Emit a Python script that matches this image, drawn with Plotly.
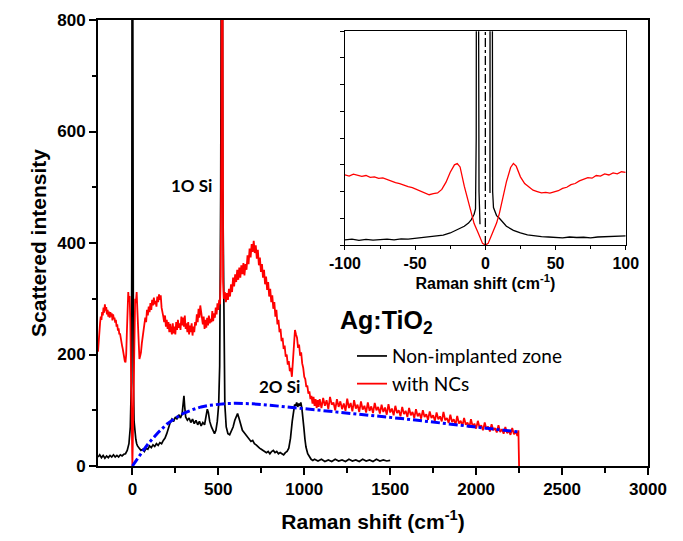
import plotly.graph_objects as go

# ---------------- main panel data ----------------
nc_x = [-200,-196,-192,-188,-184,-180,-176,-172,-168,-164,-160,-156,-152,-148,-144,-140,-136,-132,-128,-124,
        -120,-116,-112,-108,-104,-100,-96,-92,-88,-84,-80,-76,-72,-68,-64,-60,-56,-52,-48,-44,-40,
        -36,-32,-28,-24,-20,-16,-12,-8,-4,0,4,8,12,16,20,25,29,33,37,41,46,
        50,55,60,65,70,75,80,85,90,95,100,105,110,115,120,125,130,135,140,145,150,155,160,165,170,175,180,185,190,195,
        200,205,210,215,220,225,230,235,240,245,250,255,260,265,270,275,280,285,290,295,300,305,310,315,320,325,330,335,
        340,345,350,355,360,365,370,375,380,385,390,395,400,405,410,415,420,425,430,435,440,445,450,455,460,465,470,475,
        480,485,490,495,500,505,510,514,518,521,524,528,
        532,538,544,550,556,562,568,574,580,586,592,598,604,610,616,622,628,634,640,646,652,658,664,670,676,682,688,694,
        700,706,712,718,724,730,736,742,748,754,760,766,772,778,784,790,796,802,808,814,820,826,832,838,844,850,856,862,
        868,874,880,886,892,898,904,910,916,922,928,934,940,946,952,958,964,970,976,982,988,994,1000,1006,1012,1018,
        1024,1030,1036,1042,1048,1054,1060,1066,1072,1078,1084,1090,
        1100,1110,1120,1130,1140,1150,1160,1170,1180,1190,1200,1210,1220,1230,1240,1250,1260,1270,1280,1290,1300,1310,
        1320,1330,1340,1350,1360,1370,1380,1390,1400,1410,1420,1430,1440,1450,1460,1470,1480,1490,1500,1510,1520,1530,
        1540,1550,1560,1570,1580,1590,1600,1610,1620,1630,1640,1650,1660,1670,1680,1690,1700,1710,1720,1730,1740,1750,
        1760,1770,1780,1790,1800,1810,1820,1830,1840,1850,1860,1870,1880,1890,1900,1910,1920,1930,1940,1950,1960,1970,
        1980,1990,2000,2010,2020,2030,2040,2050,2060,2070,2080,2090,2100,2110,2120,2130,2140,2150,2160,2170,2180,2190,
        2200,2210,2220,2230,2240,2246,2248,2250]
nc_y = [205,228,248,256,268,262,276,270,284,275,290,279,285,272,280,268,277,266,276,268,
        274,261,272,264,266,257,262,250,254,243,247,236,238,228,226,216,210,200,196,188,186,
        200,240,290,312,295,305,260,170,60,0,70,180,270,300,292,312,280,240,205,192,198,
        204,220,232,250,254,266,258,280,270,286,276,292,280,298,288,302,290,296,286,304,294,308,298,306,284,278,268,258,270,250,
        262,246,258,240,255,244,236,256,238,250,236,258,244,262,248,256,244,268,252,266,250,270,246,256,240,258,236,252,
        240,256,234,250,240,258,252,272,258,282,266,288,272,262,254,268,246,262,248,266,252,270,256,264,258,278,260,274,
        266,284,272,292,280,298,290,340,600,1500,600,330,
        300,312,294,310,298,318,304,326,312,338,322,344,330,352,334,356,338,360,344,364,342,362,352,378,362,390,374,398,
        384,404,382,396,372,388,360,374,348,362,338,352,326,340,316,330,304,318,294,306,282,294,268,280,254,262,240,246,
        224,230,210,216,196,200,182,188,170,176,160,196,226,244,236,230,212,218,198,204,184,176,160,156,142,144,
        130,134,120,126,112,124,108,120,104,118,106,120,
        104,122,108,118,102,124,110,114,100,120,106,116,102,112,99,121,104,113,98,118,103,110,
        97,116,101,108,96,114,99,107,95,113,100,106,94,110,97,105,92,111,96,103,91,108,
        95,100,89,106,93,99,88,104,91,97,86,102,89,95,85,100,88,93,83,98,86,91,
        81,96,84,89,80,97,82,86,77,92,79,84,74,90,76,81,72,86,74,78,69,84,
        71,76,67,81,69,73,64,78,66,71,62,75,64,68,60,73,61,66,58,70,59,63,
        56,68,57,62,54,64,30,0]

ref_x = [-200,-190,-180,-170,-160,-150,-140,-130,-120,-110,-100,-90,-80,-70,-60,-50,-40,-30,-20,-12,-6,-3,-1,1,3,6,
         10,15,20,25,30,40,50,60,70,80,90,100,110,120,130,140,150,160,170,180,190,200,210,220,230,240,250,260,270,280,
         290,296,300,304,310,320,330,340,350,360,370,380,390,400,410,420,430,436,442,450,460,470,478,486,494,502,508,514,
         518,522,526,532,538,546,556,566,576,586,596,604,612,620,630,640,650,660,670,680,690,700,710,720,730,740,750,760,
         770,780,790,800,810,820,830,840,850,860,870,880,890,900,910,920,930,938,944,950,956,962,968,974,980,986,992,998,
         1004,1010,1020,1030,1040,1050,1060,1080,1100,1120,1140,1160,1180,1200,1220,1240,1260,1280,1300,1320,1340,1360,
         1380,1400,1420,1440,1460,1480,1500]
ref_y = [16,20,15,19,14,18,15,19,16,20,16,19,16,20,18,21,22,28,40,70,150,400,1500,1500,400,150,
         80,55,48,40,36,32,28,30,26,32,30,36,33,38,35,40,37,42,40,46,50,58,70,78,84,80,88,84,92,86,
         95,110,126,108,88,82,86,78,84,76,82,74,80,72,78,74,92,102,96,80,70,62,58,64,80,110,180,500,
         1500,1500,500,200,110,70,58,56,62,70,82,90,94,86,72,64,60,56,50,48,44,46,40,38,34,32,30,28,
         26,24,26,22,26,28,24,26,22,24,22,20,24,26,32,50,80,104,110,108,114,106,112,108,114,104,90,68,
         48,34,22,16,12,10,12,9,12,8,11,8,12,9,11,8,12,9,11,8,12,9,
         11,8,12,9,11,9,10]

fit_x = [0,25,50,75,100,150,200,250,300,350,400,450,500,550,600,650,700,800,900,1000,1100,1200,1300,1400,1500,
         1600,1700,1800,1900,2000,2100,2200,2250]
fit_y = [0,10,22,33,43,60,75,86,95,101,106,109,111,112,112.5,112,111.5,109,106,102,99,96,93,90,87,
         84,80.5,77,73.5,70,66,62.5,61]

# ---------------- inset data ----------------
in_nc_x = [-100,-97,-94,-91,-88,-85,-82,-79,-76,-73,-70,-67,-64,-61,-58,-55,-52,-49,-46,-43,-40,-37,-34,-31,-28,
           -25,-22,-20,-18,-15,-12,-10,-8,-5,-2,0,
           2,5,8,10,12,15,18,20,22,25,28,31,34,37,40,43,46,49,52,55,58,61,64,67,70,73,76,79,82,85,88,91,94,97,100]
in_nc_y = [2.62,2.58,2.65,2.6,2.57,2.6,2.53,2.55,2.49,2.51,2.44,2.39,2.33,2.3,2.24,2.18,2.15,2.08,2.02,1.97,1.88,1.92,1.95,2.08,2.35,
           2.72,3.0,3.05,2.92,2.2,1.6,1.18,0.8,0.44,0.06,0.0,
           0.06,0.44,0.82,1.18,1.7,2.36,2.9,3.05,2.95,2.55,2.3,2.16,2.05,2.0,1.95,1.97,1.94,1.99,2.03,2.12,2.16,2.26,2.3,2.4,2.45,2.52,2.5,2.6,2.58,2.66,2.62,2.7,2.66,2.74,2.72]

in_ref_x = [-100,-95,-90,-85,-80,-75,-70,-65,-60,-55,-50,-45,-40,-35,-30,-25,-20,-15,-12,-10,-8,-7,-6.5,-6.2,-5.3,-4.5,-3.8,
            None,3.3,3.45,None,4.7,5.2,5.8,7,8,10,12,15,20,25,30,35,40,45,50,55,60,65,70,75,80,85,90,95,100]
in_ref_y = [0.19,0.22,0.17,0.21,0.18,0.2,0.22,0.19,0.23,0.22,0.25,0.27,0.29,0.32,0.37,0.45,0.56,0.7,0.82,0.95,1.15,1.35,4,20,20,2,0.78,
            None,1.95,20,None,20,2.0,1.4,1.2,1.1,1.0,0.87,0.7,0.55,0.45,0.38,0.34,0.31,0.3,0.29,0.27,0.3,0.28,0.29,0.27,0.3,0.31,0.33,0.32,0.34]

main_xticks = [0, 500, 1000, 1500, 2000, 2500, 3000]
main_yticks = [0, 200, 400, 600, 800]
inset_xticks = [-100, -50, 0, 50, 100]

FONT = "Liberation Sans, Arial, sans-serif"
LFONT = "Lato, Open Sans, sans-serif"

fig = go.Figure()
fig.add_trace(go.Scatter(x=ref_x, y=ref_y, mode="lines", name="Non-implanted zone",
                         line=dict(color="black", width=1.7), xaxis="x", yaxis="y"))
fig.add_trace(go.Scatter(x=nc_x, y=nc_y, mode="lines", name="with NCs",
                         line=dict(color="#ff0000", width=1.8), xaxis="x", yaxis="y"))
fig.add_trace(go.Scatter(x=fit_x, y=fit_y, mode="lines", showlegend=False,
                         line=dict(color="#0000ff", width=3, dash="dashdot"), xaxis="x", yaxis="y"))
fig.add_trace(go.Scatter(x=in_ref_x, y=in_ref_y, mode="lines", showlegend=False, connectgaps=False,
                         line=dict(color="black", width=1.3), xaxis="x2", yaxis="y2"))
fig.add_trace(go.Scatter(x=in_nc_x, y=in_nc_y, mode="lines", showlegend=False,
                         line=dict(color="#ff0000", width=1.3), xaxis="x2", yaxis="y2"))

fig.add_shape(type="line", xref="x2", yref="y2 domain", x0=0, x1=0, y0=0, y1=1,
              line=dict(color="black", width=1.3, dash="dashdot"))

axis_common = dict(showline=True, linecolor="black", mirror=True, showgrid=False, zeroline=False,
                   ticks="outside", tickcolor="black", automargin=False)

def bold(vals):
    return ["<b>%s</b>" % v for v in vals]

fig.update_layout(
    width=683, height=541,
    margin=dict(l=98, r=35, t=20, b=75),
    paper_bgcolor="white", plot_bgcolor="white",
    xaxis=dict(domain=[0, 1], range=[-200, 3000], tickvals=main_xticks, ticktext=bold(main_xticks),
               linewidth=2, tickwidth=2, ticklen=7,
               minor=dict(dtick=250, tick0=0, ticks="outside", ticklen=5, tickwidth=2, tickcolor="black"),
               tickfont=dict(family=FONT, size=17, color="black"),
               title=dict(text="<b>Raman shift (cm<sup>-1</sup>)</b>", standoff=16,
                          font=dict(family=FONT, size=21, color="black")),
               anchor="y", **axis_common),
    yaxis=dict(domain=[0, 1], range=[0, 800], tickvals=main_yticks, ticktext=bold(main_yticks),
               linewidth=2, tickwidth=2, ticklen=7,
               minor=dict(dtick=100, tick0=0, ticks="outside", ticklen=4, tickwidth=2, tickcolor="black"),
               tickfont=dict(family=FONT, size=17, color="black"),
               title=dict(text="<b>Scattered intensity</b>", standoff=5,
                          font=dict(family=FONT, size=21, color="black")),
               anchor="x", **axis_common),
    xaxis2=dict(domain=[0.449, 0.9595], range=[-100, 100], tickvals=inset_xticks, ticktext=bold(inset_xticks),
                linewidth=1, tickwidth=1, ticklen=4,
                minor=dict(dtick=25, tick0=0, ticks="outside", ticklen=3, tickwidth=1, tickcolor="black"),
                tickfont=dict(family=FONT, size=16, color="black"),
                title=dict(text="<b>Raman shift (cm<sup>-1</sup>)</b>", standoff=4,
                           font=dict(family=FONT, size=16, color="black")),
                anchor="y2", **axis_common),
    yaxis2=dict(domain=[0.4955, 0.975], range=[0, 8], dtick=1, showticklabels=False, linewidth=1, tickwidth=1,
                ticklen=4, anchor="x2", **axis_common),
    legend=dict(x=0.4618, y=0.289, xanchor="left", yanchor="top", bgcolor="rgba(0,0,0,0)",
                font=dict(family=LFONT, size=19, color="black")),
    annotations=[
        dict(x=343, y=504, xref="x", yref="y", text="<b>1O Si</b>", showarrow=False,
             font=dict(family=LFONT, size=17, color="black")),
        dict(x=855, y=142, xref="x", yref="y", text="<b>2O Si</b>", showarrow=False,
             font=dict(family=LFONT, size=17, color="black")),
        dict(x=0.436, y=0.323, xref="paper", yref="paper", xanchor="left", yanchor="middle",
             text="<b>Ag:TiO<sub>2</sub></b>", showarrow=False,
             font=dict(family=FONT, size=25, color="black")),
    ],
)

fig.write_html("out.html", config={"displayModeBar": False},
               post_script="document.body.style.margin='0';")
